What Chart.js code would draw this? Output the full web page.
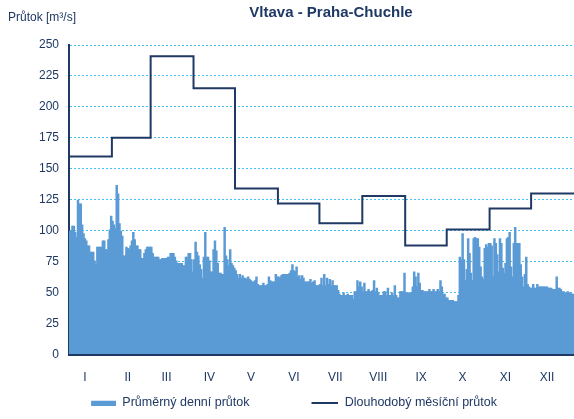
<!DOCTYPE html>
<html>
<head>
<meta charset="utf-8">
<script src="https://cdn.jsdelivr.net/npm/chart.js@4/dist/chart.umd.min.js"></script>
<style>
  html, body { margin: 0; padding: 0; background: #ffffff; }
  #wrap { width: 574px; height: 419px; }
</style>
</head>
<body>
<div id="wrap"><canvas id="c" width="574" height="419"></canvas></div>
<script>
// ---------- data ----------
const chartTitle = 'Vltava - Praha-Chuchle';
const axisTitle = 'Průtok [m³/s]';
const seriesNames = ['Průměrný denní průtok', 'Dlouhodobý měsíční průtok'];
const monthLabels = ['I', 'II', 'III', 'IV', 'V', 'VI', 'VII', 'VIII', 'IX', 'X', 'XI', 'XII'];
const daysInMonth = [31, 28, 31, 30, 31, 30, 31, 31, 30, 31, 30, 31];
const yAxisMin = 0, yAxisMax = 250, yAxisStep = 25;

// long-term monthly mean discharge (step line)
const longTermMonthly = [160, 175, 241, 215, 134, 122, 106, 128, 88, 101, 118, 130];

// mean daily discharge, one array per month
const dailyJan = [100,100,104,104,99,95,125,122,122,105,98,94,92,88,88,83,83,83,76,73,87,87,87,87,92,92,85,85,93,101,112];
const dailyFeb = [108,105,102,137,130,106,100,96,80,80,87,86,85,88,92,99,93,88,88,85,85,78,78,82,85,87,87,87];
const dailyMar = [87,82,79,79,79,79,77,77,78,78,78,78,79,79,82,82,82,79,76,74,74,74,74,72,72,79,79,82,82,77,67];
const dailyApr = [77,91,83,80,73,69,62,79,99,79,79,76,67,67,85,92,84,74,66,66,65,65,103,80,77,72,85,74,72,70];
const dailyMay = [68,65,62,65,62,64,62,62,61,63,61,60,59,59,60,63,57,56,56,56,58,56,56,57,63,60,59,59,59,65,63];
const dailyJun = [63,62,64,65,65,65,65,65,66,68,73,68,67,71,63,64,61,64,62,59,59,59,59,61,58,59,60,56,56,56];
const dailyJul = [57,62,56,65,56,62,57,61,56,60,56,56,56,52,49,48,48,50,48,48,49,48,48,48,45,51,51,60,55,59,55];
const dailyAug = [51,58,51,51,53,51,51,52,60,51,54,50,48,48,48,51,51,48,54,48,48,50,48,56,48,46,46,51,51,51,66];
const dailySep = [50,50,50,50,50,55,67,63,55,66,58,52,52,51,51,51,51,53,51,51,53,51,51,53,51,60,55,49,49,46];
const dailyOct = [46,44,44,44,44,43,43,43,48,79,77,98,77,60,69,94,82,66,60,94,95,94,94,87,71,63,61,86,89,87,90];
const dailyNov = [90,88,63,94,90,81,67,94,90,70,66,74,94,95,99,71,63,90,103,90,90,90,73,63,55,65,79,57,55,54];
const dailyDec = [54,57,54,54,57,55,55,55,55,55,55,55,54,54,54,53,53,53,63,54,54,53,51,51,50,50,51,50,50,49,49];

// ---------- derived structures ----------
const dailyFlow = [].concat(dailyJan, dailyFeb, dailyMar, dailyApr, dailyMay, dailyJun,
                            dailyJul, dailyAug, dailySep, dailyOct, dailyNov, dailyDec);
const monthStarts = [];
daysInMonth.reduce((acc, d) => { monthStarts.push(acc); return acc + d; }, 0);
const totalDays = daysInMonth.reduce((a, b) => a + b, 0);
const labelDays = monthStarts.map(s => s + 11.5);

const barPoints = dailyFlow.map((v, i) => ({ x: i + 0.5, y: v }));
const stepPoints = monthStarts.map((s, i) => ({ x: s, y: longTermMonthly[i] }))
  .concat([{ x: totalDays, y: longTermMonthly[longTermMonthly.length - 1] }]);

// ---------- styling ----------
const navy = '#1F3864';
const barBlue = '#5B9BD5';
const fontFamily = "'Liberation Sans', Arial, Helvetica, sans-serif";

function makeIcon(w, drawW, h, fillH, color) {
  const c = document.createElement('canvas');
  c.width = w; c.height = h;
  const g = c.getContext('2d');
  g.fillStyle = color;
  g.fillRect(w - drawW, Math.round((h - fillH) / 2), drawW, fillH);
  return c;
}
const iconW = 79;
const barIcon = makeIcon(iconW, 25, 6, 5, barBlue);
const lineIcon = makeIcon(iconW, 27, 2, 2, navy);

const tweak = {
  id: 'tweak',
  afterLayout(chart) {
    const t = chart.titleBlock;
    if (t) { t.left += 40; t.right += 40; }
    const l = chart.legend;
    if (l) { l.left -= 24; l.right -= 24; }
  }
};

new Chart(document.getElementById('c'), {
  type: 'bar',
  data: {
    datasets: [
      {
        type: 'bar',
        label: seriesNames[0],
        data: barPoints,
        backgroundColor: barBlue,
        borderWidth: 0,
        barPercentage: 1.8,
        categoryPercentage: 1,
        grouped: false,
        order: 2
      },
      {
        type: 'line',
        label: seriesNames[1],
        data: stepPoints,
        stepped: 'before',
        borderColor: navy,
        backgroundColor: navy,
        borderWidth: 2,
        pointRadius: 0,
        fill: false,
        order: 1
      }
    ]
  },
  options: {
    responsive: false,
    animation: false,
    devicePixelRatio: 1,
    layout: { padding: { left: 8, right: 0, top: 0, bottom: 0 } },
    plugins: {
      title: {
        display: true,
        text: chartTitle,
        color: navy,
        font: { family: fontFamily, size: 15, weight: 'bold' },
        padding: { top: 4, bottom: -14 }
      },
      subtitle: {
        display: true,
        text: axisTitle,
        align: 'start',
        color: navy,
        font: { family: fontFamily, size: 12 },
        padding: { top: 2, bottom: 20.6 }
      },
      legend: {
        position: 'bottom',
        labels: {
          usePointStyle: true,
          pointStyleWidth: iconW,
          boxHeight: 12,
          padding: 10,
          color: navy,
          font: { family: fontFamily, size: 12.5 },
          generateLabels(chart) {
            const items = Chart.defaults.plugins.legend.labels.generateLabels(chart);
            items.sort((a, b) => a.datasetIndex - b.datasetIndex);
            items.forEach(it => { it.pointStyle = it.datasetIndex === 0 ? barIcon : lineIcon; });
            return items;
          }
        }
      },
      tooltip: { enabled: false }
    },
    scales: {
      x: {
        type: 'linear',
        offset: false,
        min: 0,
        max: totalDays,
        grid: { display: false, offset: false },
        border: { color: navy, width: 3 },
        ticks: {
          color: navy,
          font: { family: fontFamily, size: 12 },
          padding: 8,
          autoSkip: false,
          maxRotation: 0,
          callback: (v, i) => monthLabels[i]
        },
        afterBuildTicks(s) { s.ticks = labelDays.map(v => ({ value: v })); },
        afterFit(s) { s.height = 32; }
      },
      y: {
        min: yAxisMin,
        max: yAxisMax,
        ticks: {
          stepSize: yAxisStep,
          color: navy,
          font: { family: fontFamily, size: 12 },
          padding: 10
        },
        grid: { color: '#45BDEE', lineWidth: 1, drawTicks: false },
        border: { color: navy, width: 2, dash: [2, 2] },
        afterFit(s) { s.width = 61; }
      }
    }
  },
  plugins: [tweak]
});
</script>
</body>
</html>
